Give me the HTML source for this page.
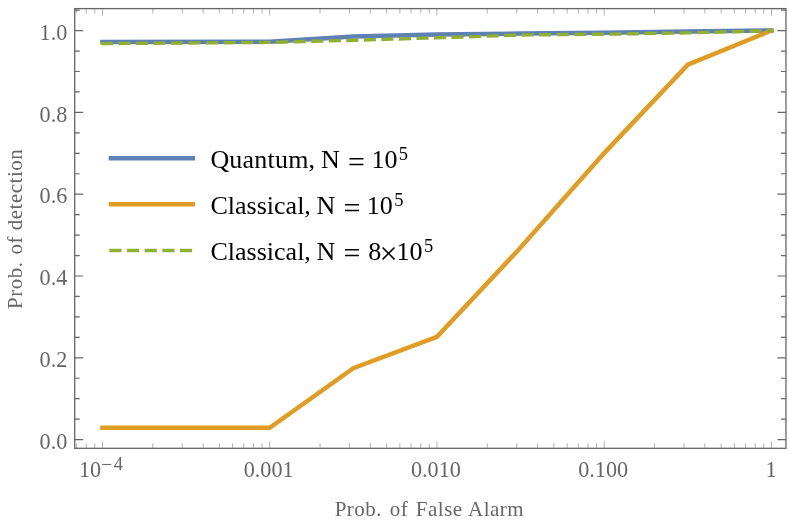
<!DOCTYPE html>
<html><head><meta charset="utf-8"><title>chart</title>
<style>
html,body{margin:0;padding:0;background:#fff;}
body{width:789px;height:524px;overflow:hidden;font-family:"Liberation Serif",serif;}
svg{display:block;will-change:transform;}
text{font-family:"Liberation Serif",serif;}
.tl{font-size:22.2px;fill:#666;}
.al{font-size:21px;fill:#666;letter-spacing:0.5px;}
.lg{font-size:26px;fill:#000;}
</style></head><body>
<svg width="789" height="524" viewBox="0 0 789 524">

<path d="M74.7 439.60h8.5M785.95 439.60h-8.5" stroke="#666666" stroke-width="1.2" fill="none"/>
<path d="M74.7 419.15h5.0M785.95 419.15h-5.0" stroke="#666666" stroke-width="1.2" fill="none"/>
<path d="M74.7 398.70h5.0M785.95 398.70h-5.0" stroke="#666666" stroke-width="1.2" fill="none"/>
<path d="M74.7 378.25h5.0M785.95 378.25h-5.0" stroke="#666666" stroke-width="1.2" fill="none"/>
<path d="M74.7 357.80h8.5M785.95 357.80h-8.5" stroke="#666666" stroke-width="1.2" fill="none"/>
<path d="M74.7 337.35h5.0M785.95 337.35h-5.0" stroke="#666666" stroke-width="1.2" fill="none"/>
<path d="M74.7 316.90h5.0M785.95 316.90h-5.0" stroke="#666666" stroke-width="1.2" fill="none"/>
<path d="M74.7 296.45h5.0M785.95 296.45h-5.0" stroke="#666666" stroke-width="1.2" fill="none"/>
<path d="M74.7 276.00h8.5M785.95 276.00h-8.5" stroke="#666666" stroke-width="1.2" fill="none"/>
<path d="M74.7 255.55h5.0M785.95 255.55h-5.0" stroke="#666666" stroke-width="1.2" fill="none"/>
<path d="M74.7 235.10h5.0M785.95 235.10h-5.0" stroke="#666666" stroke-width="1.2" fill="none"/>
<path d="M74.7 214.65h5.0M785.95 214.65h-5.0" stroke="#666666" stroke-width="1.2" fill="none"/>
<path d="M74.7 194.20h8.5M785.95 194.20h-8.5" stroke="#666666" stroke-width="1.2" fill="none"/>
<path d="M74.7 173.75h5.0M785.95 173.75h-5.0" stroke="#666666" stroke-width="1.2" fill="none"/>
<path d="M74.7 153.30h5.0M785.95 153.30h-5.0" stroke="#666666" stroke-width="1.2" fill="none"/>
<path d="M74.7 132.85h5.0M785.95 132.85h-5.0" stroke="#666666" stroke-width="1.2" fill="none"/>
<path d="M74.7 112.40h8.5M785.95 112.40h-8.5" stroke="#666666" stroke-width="1.2" fill="none"/>
<path d="M74.7 91.95h5.0M785.95 91.95h-5.0" stroke="#666666" stroke-width="1.2" fill="none"/>
<path d="M74.7 71.50h5.0M785.95 71.50h-5.0" stroke="#666666" stroke-width="1.2" fill="none"/>
<path d="M74.7 51.05h5.0M785.95 51.05h-5.0" stroke="#666666" stroke-width="1.2" fill="none"/>
<path d="M74.7 30.60h8.5M785.95 30.60h-8.5" stroke="#666666" stroke-width="1.2" fill="none"/>
<path d="M74.7 10.15h5.0M785.95 10.15h-5.0" stroke="#666666" stroke-width="1.2" fill="none"/>
<path d="M76.54 448.3v-5.0M76.54 8.6v5.0" stroke="#666666" stroke-width="0.5" fill="none"/>
<path d="M86.24 448.3v-5.0M86.24 8.6v5.0" stroke="#666666" stroke-width="0.5" fill="none"/>
<path d="M94.80 448.3v-5.0M94.80 8.6v5.0" stroke="#666666" stroke-width="0.5" fill="none"/>
<path d="M102.45 448.3v-7.1M102.45 8.6v7.1" stroke="#666666" stroke-width="0.5" fill="none"/>
<path d="M152.80 448.3v-5.0M152.80 8.6v5.0" stroke="#666666" stroke-width="0.5" fill="none"/>
<path d="M182.25 448.3v-5.0M182.25 8.6v5.0" stroke="#666666" stroke-width="0.5" fill="none"/>
<path d="M203.14 448.3v-5.0M203.14 8.6v5.0" stroke="#666666" stroke-width="0.5" fill="none"/>
<path d="M219.35 448.3v-5.0M219.35 8.6v5.0" stroke="#666666" stroke-width="0.5" fill="none"/>
<path d="M232.60 448.3v-5.0M232.60 8.6v5.0" stroke="#666666" stroke-width="0.5" fill="none"/>
<path d="M243.79 448.3v-5.0M243.79 8.6v5.0" stroke="#666666" stroke-width="0.5" fill="none"/>
<path d="M253.49 448.3v-5.0M253.49 8.6v5.0" stroke="#666666" stroke-width="0.5" fill="none"/>
<path d="M262.05 448.3v-5.0M262.05 8.6v5.0" stroke="#666666" stroke-width="0.5" fill="none"/>
<path d="M269.70 448.3v-7.1M269.70 8.6v7.1" stroke="#666666" stroke-width="0.5" fill="none"/>
<path d="M320.05 448.3v-5.0M320.05 8.6v5.0" stroke="#666666" stroke-width="0.5" fill="none"/>
<path d="M349.50 448.3v-5.0M349.50 8.6v5.0" stroke="#666666" stroke-width="0.5" fill="none"/>
<path d="M370.39 448.3v-5.0M370.39 8.6v5.0" stroke="#666666" stroke-width="0.5" fill="none"/>
<path d="M386.60 448.3v-5.0M386.60 8.6v5.0" stroke="#666666" stroke-width="0.5" fill="none"/>
<path d="M399.85 448.3v-5.0M399.85 8.6v5.0" stroke="#666666" stroke-width="0.5" fill="none"/>
<path d="M411.04 448.3v-5.0M411.04 8.6v5.0" stroke="#666666" stroke-width="0.5" fill="none"/>
<path d="M420.74 448.3v-5.0M420.74 8.6v5.0" stroke="#666666" stroke-width="0.5" fill="none"/>
<path d="M429.30 448.3v-5.0M429.30 8.6v5.0" stroke="#666666" stroke-width="0.5" fill="none"/>
<path d="M436.95 448.3v-7.1M436.95 8.6v7.1" stroke="#666666" stroke-width="0.5" fill="none"/>
<path d="M487.30 448.3v-5.0M487.30 8.6v5.0" stroke="#666666" stroke-width="0.5" fill="none"/>
<path d="M516.75 448.3v-5.0M516.75 8.6v5.0" stroke="#666666" stroke-width="0.5" fill="none"/>
<path d="M537.64 448.3v-5.0M537.64 8.6v5.0" stroke="#666666" stroke-width="0.5" fill="none"/>
<path d="M553.85 448.3v-5.0M553.85 8.6v5.0" stroke="#666666" stroke-width="0.5" fill="none"/>
<path d="M567.10 448.3v-5.0M567.10 8.6v5.0" stroke="#666666" stroke-width="0.5" fill="none"/>
<path d="M578.29 448.3v-5.0M578.29 8.6v5.0" stroke="#666666" stroke-width="0.5" fill="none"/>
<path d="M587.99 448.3v-5.0M587.99 8.6v5.0" stroke="#666666" stroke-width="0.5" fill="none"/>
<path d="M596.55 448.3v-5.0M596.55 8.6v5.0" stroke="#666666" stroke-width="0.5" fill="none"/>
<path d="M604.20 448.3v-7.1M604.20 8.6v7.1" stroke="#666666" stroke-width="0.5" fill="none"/>
<path d="M654.55 448.3v-5.0M654.55 8.6v5.0" stroke="#666666" stroke-width="0.5" fill="none"/>
<path d="M684.00 448.3v-5.0M684.00 8.6v5.0" stroke="#666666" stroke-width="0.5" fill="none"/>
<path d="M704.89 448.3v-5.0M704.89 8.6v5.0" stroke="#666666" stroke-width="0.5" fill="none"/>
<path d="M721.10 448.3v-5.0M721.10 8.6v5.0" stroke="#666666" stroke-width="0.5" fill="none"/>
<path d="M734.35 448.3v-5.0M734.35 8.6v5.0" stroke="#666666" stroke-width="0.5" fill="none"/>
<path d="M745.54 448.3v-5.0M745.54 8.6v5.0" stroke="#666666" stroke-width="0.5" fill="none"/>
<path d="M755.24 448.3v-5.0M755.24 8.6v5.0" stroke="#666666" stroke-width="0.5" fill="none"/>
<path d="M763.80 448.3v-5.0M763.80 8.6v5.0" stroke="#666666" stroke-width="0.5" fill="none"/>
<path d="M771.45 448.3v-7.1M771.45 8.6v7.1" stroke="#666666" stroke-width="0.5" fill="none"/>
<polyline points="102.45,42.00 269.70,41.80 353.32,36.50 436.95,34.60 520.58,33.60 604.20,32.80 687.83,31.60 771.45,30.50" fill="none" stroke="#5E81B5" stroke-width="4.5" stroke-linejoin="miter" stroke-linecap="square"/>
<polyline points="102.45,427.85 269.70,427.85 353.32,368.20 436.95,336.85 520.58,247.60 604.20,153.10 687.83,64.60 771.45,30.60" fill="none" stroke="#E19C24" stroke-width="4.5" stroke-linejoin="miter" stroke-linecap="square"/>
<polyline points="102.45,43.60 269.70,42.40 353.32,40.30 436.95,37.80 520.58,35.00 604.20,34.20 687.83,32.90 771.45,30.70" fill="none" stroke="#8FB032" stroke-width="3.4" stroke-dasharray="8.77 8.77" stroke-linejoin="miter" stroke-linecap="square"/>
<rect x="74.7" y="8.6" width="711.25" height="439.7" fill="none" stroke="#666666" stroke-width="1.3"/>
<text class="tl" x="39.6" y="448.70">0.0</text>
<text class="tl" x="39.6" y="366.90">0.2</text>
<text class="tl" x="39.6" y="285.10">0.4</text>
<text class="tl" x="39.6" y="203.30">0.6</text>
<text class="tl" x="39.6" y="121.50">0.8</text>
<text class="tl" x="39.6" y="39.70">1.0</text>
<text class="tl" x="79.0" y="476.8">10<tspan font-size="20" x="100.9" y="471.25">−</tspan><tspan font-size="18.5" x="113.7" y="470">4</tspan></text>
<text class="tl" x="243.70" y="476.8">0.001</text>
<text class="tl" x="410.95" y="476.8">0.010</text>
<text class="tl" x="578.20" y="476.8">0.100</text>
<text class="tl" x="765.50" y="476.8">1</text>
<text class="al" y="516.0"><tspan x="334.7">Prob.</tspan><tspan x="389.8">of</tspan><tspan x="415.8">False</tspan><tspan x="468.0">Alarm</tspan></text>
<text class="al" transform="translate(22 308.6) rotate(-90)" y="0"><tspan x="-0.3">Prob.</tspan><tspan x="54.1">of</tspan><tspan x="78.4">detection</tspan></text>
<line x1="110.95" y1="158.3" x2="192.75" y2="158.3" stroke="#5E81B5" stroke-width="4.5" stroke-linecap="square"/>
<line x1="110.95" y1="204.3" x2="192.75" y2="204.3" stroke="#E19C24" stroke-width="4.5" stroke-linecap="square"/>
<line x1="111.0" y1="250.45" x2="192.75" y2="250.45" stroke="#8FB032" stroke-width="3.4" stroke-linecap="square" stroke-dasharray="8.8 8.85"/>
<text class="lg" y="168"><tspan x="210.4" y="168.00"><tspan letter-spacing="0.2">Quantum,</tspan></tspan><tspan x="320.9" y="168.00">N</tspan><tspan x="347.9" y="171.50" font-size="30">=</tspan><tspan x="371.5" y="168.00">10</tspan><tspan x="398.8" y="159.70" font-size="18.5">5</tspan></text>
<text class="lg" y="214"><tspan x="210.5" y="214.00">Classical,</tspan><tspan x="316.45" y="214.00">N</tspan><tspan x="343.4" y="217.50" font-size="30">=</tspan><tspan x="366.85" y="214.00">10</tspan><tspan x="394.35" y="205.70" font-size="18.5">5</tspan></text>
<text class="lg" y="259.8"><tspan x="210.5" y="259.80">Classical,</tspan><tspan x="316.45" y="259.80">N</tspan><tspan x="343.4" y="263.30" font-size="30">=</tspan><tspan x="368.15" y="259.80">8</tspan><tspan x="379.6" y="264.47" font-size="32">×</tspan><tspan x="396.6" y="259.80">10</tspan><tspan x="423.95" y="251.50" font-size="18.5">5</tspan></text>
</svg></body></html>
